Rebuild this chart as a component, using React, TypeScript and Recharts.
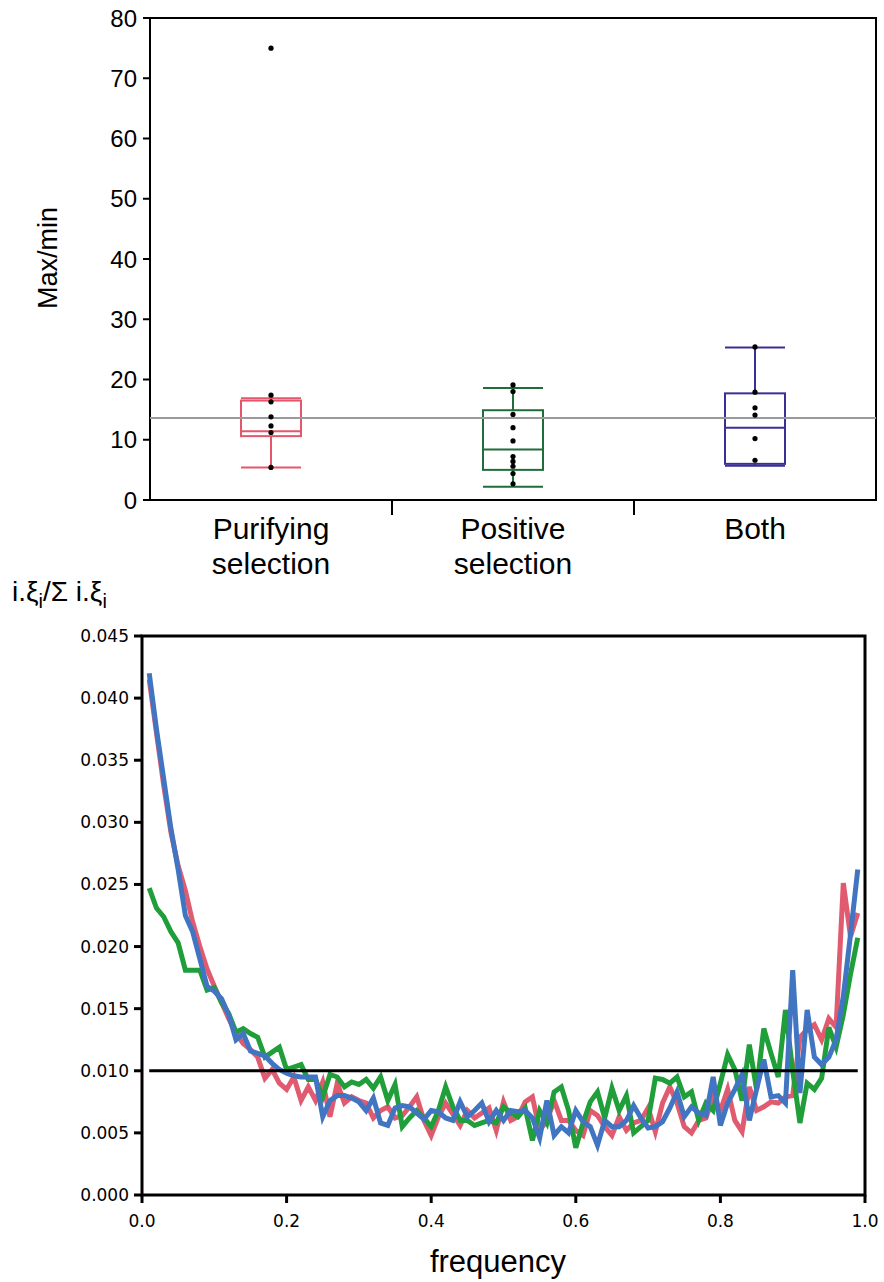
import {
  Bar,
  ComposedChart,
  Line,
  LineChart,
  ReferenceArea,
  ReferenceLine,
  Scatter,
  XAxis,
  YAxis,
} from "recharts";

// ---- top panel: max/min ratio per selection class ----
const groups = ["Purifying selection", "Positive selection", "Both"];
const whiskerLow = [5.4, 2.2, 5.7];
const quartile1 = [10.6, 5.0, 6.0];
const medians = [11.4, 8.4, 12.0];
const quartile3 = [16.5, 14.9, 17.7];
const whiskerHigh = [16.9, 18.6, 25.3];
const purifyingPoints = [75, 17.4, 16.3, 13.8, 12.3, 11.2, 5.4];
const positivePoints = [19.1, 18.0, 14.2, 12.0, 9.8, 7.2, 6.4, 5.6, 4.4, 2.7];
const bothPoints = [25.4, 17.9, 15.3, 14.1, 10.2, 6.6];
const overallLevel = 13.6;
const ratioTicks = [0, 10, 20, 30, 40, 50, 60, 70, 80];

// ---- bottom panel: weighted SFS ----
const sfsRed = [
  0.0415, 0.0372, 0.033, 0.0292, 0.0265, 0.0245, 0.022, 0.02, 0.0182, 0.0168,
  0.0155, 0.0142, 0.013, 0.0122, 0.0117, 0.0111, 0.0094, 0.0101, 0.009, 0.0085,
  0.0095, 0.0076, 0.0087, 0.0076, 0.0091, 0.0063, 0.009, 0.0074, 0.0079, 0.0076,
  0.0074, 0.0062, 0.0068, 0.0071, 0.0062, 0.0064, 0.0071, 0.0079, 0.006, 0.0048,
  0.0063, 0.0074, 0.0065, 0.0056, 0.0068, 0.0062, 0.0066, 0.007, 0.0052, 0.0075,
  0.006, 0.0063, 0.0075, 0.0079, 0.0052, 0.006, 0.0076, 0.006, 0.006, 0.0052,
  0.0048, 0.0068, 0.0064, 0.0055, 0.0048, 0.0063, 0.0052, 0.0058, 0.006, 0.007,
  0.0051, 0.0074, 0.0087, 0.0074, 0.0055, 0.005, 0.006, 0.0062, 0.0079, 0.0068,
  0.0085, 0.006, 0.0051, 0.0087, 0.0068, 0.0071, 0.0075, 0.0074, 0.0079, 0.008,
  0.0127, 0.0133, 0.0137, 0.0125, 0.0142, 0.0135, 0.0251, 0.0208, 0.0227,
];
const sfsGreen = [
  0.0247, 0.0231, 0.0224, 0.0212, 0.0203, 0.0181, 0.0181, 0.0181, 0.0165, 0.0167,
  0.0155, 0.0146, 0.0131, 0.0134, 0.013, 0.0127, 0.0111, 0.0115, 0.0119, 0.0101,
  0.0103, 0.0105, 0.0093, 0.0093, 0.0079, 0.0097, 0.0095, 0.0087, 0.0091, 0.0089,
  0.0093, 0.0086, 0.0095, 0.0076, 0.0089, 0.0055, 0.0062, 0.0068, 0.0062, 0.0055,
  0.0068, 0.0087, 0.0071, 0.006, 0.006, 0.0056, 0.0058, 0.006, 0.0058, 0.0071,
  0.0066, 0.0063, 0.007, 0.0044, 0.0068, 0.0058, 0.0083, 0.0087, 0.0068, 0.0038,
  0.0058, 0.0075, 0.0083, 0.0062, 0.0086, 0.0068, 0.008, 0.005, 0.0055, 0.006,
  0.0094, 0.0093, 0.009, 0.0095, 0.0079, 0.0083, 0.006, 0.0074, 0.0068, 0.009,
  0.0113, 0.0101, 0.0076, 0.0121, 0.0085, 0.0134, 0.0114, 0.0095, 0.0149, 0.01,
  0.0058, 0.009, 0.0085, 0.0094, 0.0135, 0.0119, 0.0145, 0.0178, 0.0207,
];
const sfsBlue = [
  0.042, 0.0375, 0.0335, 0.0295, 0.0262, 0.0225, 0.0212, 0.019, 0.0168, 0.0164,
  0.0158, 0.0145, 0.0125, 0.013, 0.0116, 0.0114, 0.0112, 0.0106, 0.0101, 0.0098,
  0.0096, 0.0095, 0.0095, 0.0095, 0.0063, 0.0076, 0.008, 0.008, 0.0078, 0.0075,
  0.0068, 0.0078, 0.0058, 0.0056, 0.007, 0.0072, 0.0071, 0.0066, 0.0061, 0.0068,
  0.0067, 0.0062, 0.006, 0.0075, 0.0063, 0.0068, 0.0074, 0.0059, 0.0068, 0.006,
  0.0068, 0.0067, 0.0068, 0.0062, 0.0046, 0.0076, 0.0048, 0.0055, 0.005, 0.0068,
  0.0059, 0.0055, 0.004, 0.006, 0.0055, 0.0055, 0.006, 0.0072, 0.0062, 0.0054,
  0.0055, 0.0059, 0.007, 0.0083, 0.0063, 0.0071, 0.0066, 0.0064, 0.0095, 0.0056,
  0.0074, 0.0085, 0.0097, 0.006, 0.0085, 0.0109, 0.0079, 0.008, 0.0074, 0.0181,
  0.0082, 0.0149, 0.0111, 0.0105, 0.0111, 0.0125, 0.016, 0.021, 0.0262,
];
const neutralLevel = 0.01;
const freqTicks = [0, 0.2, 0.4, 0.6, 0.8, 1.0];
const sfsTicks = [0, 0.005, 0.01, 0.015, 0.02, 0.025, 0.03, 0.035, 0.04, 0.045];

const boxColors = ["#e5566b", "#1f6d3b", "#3a2e97"];
const SANS = "'Liberation Sans', Arial, sans-serif";
const TICK_FONT = "'DejaVu Sans', sans-serif";

const boxRows = groups.map((name, i) => ({
  name,
  wLo: whiskerLow[i],
  q1: quartile1[i],
  med: medians[i],
  q3: quartile3[i],
  wHi: whiskerHigh[i],
}));

// points sit at the middle of each category slot on the 0..3 numeric axis
const pointRows = [purifyingPoints, positivePoints, bothPoints].flatMap((pts, i) =>
  pts.map((v) => ({ pos: i + 0.5, v }))
);

// sampling grid of the spectrum: frequencies 0.01 .. 0.99
const sfsRows = sfsRed.map((r, i) => ({
  freq: (i + 1) / 100,
  red: r,
  green: sfsGreen[i],
  blue: sfsBlue[i],
}));

function BoxShape(props: any) {
  const { x, y, width, height, payload, index } = props;
  const top = Math.min(y, y + height);
  const span = Math.abs(height);
  const k = span / (payload.wHi - payload.wLo);
  const py = (v: number) => top + (payload.wHi - v) * k;
  const cx = x + width / 2;
  return (
    <g stroke={boxColors[index]} strokeWidth={2} fill="none">
      <line x1={cx} x2={cx} y1={py(payload.wHi)} y2={py(payload.q3)} />
      <line x1={cx} x2={cx} y1={py(payload.q1)} y2={py(payload.wLo)} />
      <line x1={x} x2={x + width} y1={py(payload.wHi)} y2={py(payload.wHi)} />
      <line x1={x} x2={x + width} y1={py(payload.wLo)} y2={py(payload.wLo)} />
      <rect x={x} y={py(payload.q3)} width={width} height={py(payload.q1) - py(payload.q3)} />
      <line x1={x} x2={x + width} y1={py(payload.med)} y2={py(payload.med)} />
    </g>
  );
}

// recharts hands the tick a y that sits below the axis line; pull it back up
const TICK_SHIFT = 30;

function GroupTick(props: any) {
  const { x, payload } = props;
  const y = props.y - TICK_SHIFT;
  const v = payload.value;
  if (Number.isInteger(v)) {
    return <line x1={x} x2={x} y1={y} y2={y + 15} stroke="#000" strokeWidth={2} />;
  }
  const words = groups[Math.floor(v)].split(" ");
  return (
    <text x={x} y={y} textAnchor="middle" fontSize={30} fill="#000" fontFamily={SANS}>
      {words.map((w, i) => (
        <tspan key={w} x={x} dy={i === 0 ? 39 : 35}>
          {w}
        </tspan>
      ))}
    </text>
  );
}

function Dot(props: any) {
  return <circle cx={props.cx} cy={props.cy} r={2.6} fill="#000" />;
}

export default function App() {
  return (
    <div style={{ position: "absolute", left: 0, top: 0, width: 884, height: 1282, background: "#fff" }}>
      <div style={{ position: "absolute", left: 0, top: 0 }}>
        <ComposedChart
          width={884}
          height={600}
          data={boxRows}
          margin={{ top: 18, right: 8, bottom: 20, left: 0 }}
        >
          <XAxis xAxisId="cat" dataKey="name" type="category" hide />
          <XAxis
            xAxisId="num"
            dataKey="pos"
            type="number"
            domain={[0, 3]}
            ticks={[0.5, 1, 1.5, 2, 2.5]}
            interval={0}
            height={80}
            axisLine={false}
            tickLine={false}
            tickSize={0}
            tickMargin={0}
            tick={<GroupTick />}
          />
          <YAxis
            type="number"
            domain={[0, 80]}
            ticks={ratioTicks}
            width={150}
            axisLine={false}
            tickLine={{ stroke: "#000", strokeWidth: 2 }}
            tickSize={7}
            tickMargin={6}
            tick={{ fontSize: 24, fill: "#000", fontFamily: SANS }}
          />
          <ReferenceLine xAxisId="num" y={overallLevel} stroke="#9a9a9a" strokeWidth={2} />
          <Bar
            xAxisId="cat"
            dataKey={(d: any) => [d.wLo, d.wHi]}
            barSize={60}
            shape={<BoxShape />}
            isAnimationActive={false}
          />
          <Scatter
            xAxisId="num"
            data={pointRows}
            dataKey="v"
            shape={<Dot />}
            isAnimationActive={false}
          />
          <ReferenceArea
            xAxisId="num"
            x1={0}
            x2={3}
            y1={0}
            y2={80}
            fill="none"
            stroke="#000"
            strokeWidth={2}
            ifOverflow="visible"
          />
        </ComposedChart>
      </div>
      <div
        style={{
          position: "absolute",
          left: 48,
          top: 258,
          transform: "translate(-50%, -50%) rotate(-90deg)",
          fontFamily: SANS,
          fontSize: 27,
          whiteSpace: "nowrap",
        }}
      >
        Max/min
      </div>

      <div
        style={{
          position: "absolute",
          left: 12,
          top: 576,
          fontFamily: SANS,
          fontSize: 28,
          whiteSpace: "nowrap",
        }}
      >
        i.ξ<sub style={{ fontSize: 20 }}>i</sub>/Σ i.ξ<sub style={{ fontSize: 20 }}>i</sub>
      </div>

      <div style={{ position: "absolute", left: 0, top: 600 }}>
        <LineChart
          width={884}
          height={682}
          data={sfsRows}
          margin={{ top: 36, right: 19, bottom: 27, left: 0 }}
        >
          <XAxis
            dataKey="freq"
            type="number"
            domain={[0, 1]}
            ticks={freqTicks}
            interval={0}
            height={60}
            tickFormatter={(v: number) => v.toFixed(1)}
            axisLine={false}
            tickLine={{ stroke: "#000", strokeWidth: 3 }}
            tickSize={8}
            tickMargin={12}
            tick={{ fontSize: 17, fill: "#000", fontFamily: TICK_FONT }}
          />
          <YAxis
            type="number"
            domain={[0, 0.045]}
            ticks={sfsTicks}
            interval={0}
            width={142}
            tickFormatter={(v: number) => v.toFixed(3)}
            axisLine={false}
            tickLine={{ stroke: "#000", strokeWidth: 3 }}
            tickSize={8}
            tickMargin={5}
            tick={{ fontSize: 17, fill: "#000", fontFamily: TICK_FONT }}
          />
          <Line
            dataKey="red"
            stroke="#e05b70"
            strokeWidth={5}
            dot={false}
            isAnimationActive={false}
          />
          <Line
            dataKey="green"
            stroke="#1f9e3a"
            strokeWidth={5}
            dot={false}
            isAnimationActive={false}
          />
          <Line
            dataKey="blue"
            stroke="#4175c2"
            strokeWidth={5}
            dot={false}
            isAnimationActive={false}
          />
          <ReferenceLine
            segment={[
              { x: 0.01, y: neutralLevel },
              { x: 0.99, y: neutralLevel },
            ]}
            stroke="#000"
            strokeWidth={3}
          />
          <ReferenceArea
            x1={0}
            x2={1}
            y1={0}
            y2={0.045}
            fill="none"
            stroke="#000"
            strokeWidth={3}
            ifOverflow="visible"
          />
        </LineChart>
      </div>
      <div
        style={{
          position: "absolute",
          left: 498,
          top: 1262,
          transform: "translate(-50%, -50%)",
          fontFamily: SANS,
          fontSize: 31,
          whiteSpace: "nowrap",
        }}
      >
        frequency
      </div>
    </div>
  );
}
